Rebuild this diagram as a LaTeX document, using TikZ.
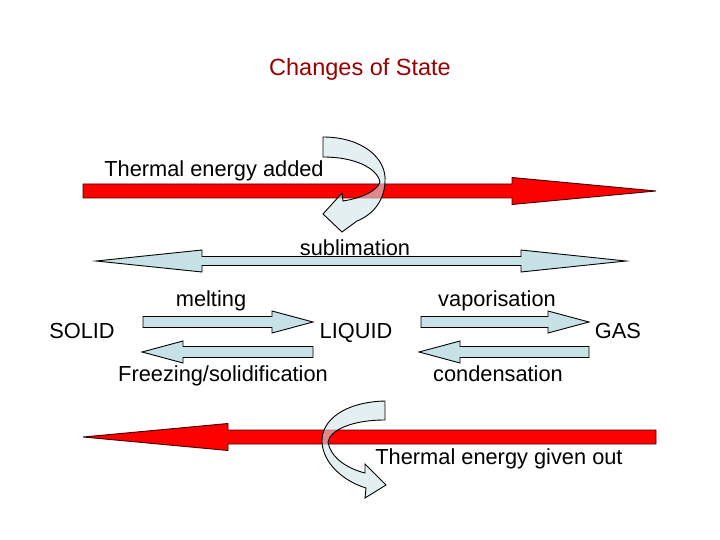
\documentclass[tikz,border=0pt]{standalone}
\usepackage{fontspec}
\setmainfont{Liberation Sans}
\usetikzlibrary{calc}
\definecolor{titlered}{RGB}{153,0,0}
\definecolor{heatred}{RGB}{255,0,0}
\definecolor{statefill}{RGB}{198,226,230}
\definecolor{curlfill}{RGB}{208,228,232}

% block arrow between two named points (horizontal)
\newcommand{\blockarrow}[2]{%
  \path[blockarrow] let \p1=(#1), \p2=(#2), \n1={ifthenelse(\x2>\x1,41,-41)} in
    (\x1,{\y1+5.5pt}) -- ({\x2-\n1*1pt},{\y1+5.5pt}) -- ({\x2-\n1*1pt},{\y1+11pt}) -- (\x2,\y1)
    -- ({\x2-\n1*1pt},{\y1-11pt}) -- ({\x2-\n1*1pt},{\y1-5.5pt}) -- (\x1,{\y1-5.5pt}) -- cycle;}
% long red arrow: tail, head base, tip
\newcommand{\heatarrow}[3]{%
  \path[heatarrow] let \p1=(#1), \p2=(#2), \p3=(#3) in
    (\x1,{\y1+7pt}) -- (\x2,{\y1+7pt}) -- (\x2,{\y1+13.5pt}) -- (\x3,\y1)
    -- (\x2,{\y1-13.5pt}) -- (\x2,{\y1-7pt}) -- (\x1,{\y1-7pt}) -- cycle;}

\tikzset{
  statetext/.style={font=\fontsize{21.8}{24}\selectfont, inner sep=0pt, anchor=base},
  blockarrow/.style={draw=black, line width=0.9pt, fill=statefill},
  heatarrow/.style={draw=black!75!red, line width=0.9pt, fill=heatred},
  curlarrow/.style={draw=black, line width=0.9pt, fill=curlfill, fill opacity=0.6},
}

\begin{document}
\begin{tikzpicture}[x=1pt, y=-1pt]
  \useasboundingbox (0,0) rectangle (720,540);

  \node[statetext, font=\fontsize{23.5}{26}\selectfont, text=titlered] (title) at (360,76) {Changes of State};

  % heat in
  \coordinate (intail) at (83,191);
  \coordinate (inbase) at (512,191);
  \coordinate (intip) at (656,191);
  \heatarrow{intail}{inbase}{intip}
  \node[statetext] (addedlabel) at (214,177) {Thermal energy added};
  \path[curlarrow] (323,137) .. controls (362,137) and (387,158) .. (385,182)
    .. controls (384,202) and (372,215) .. (357,221) -- (342,232) -- (323,214)
    -- (342,193) -- (343,201) .. controls (362,198) and (377,191) .. (380,182)
    .. controls (377,168) and (355,157) .. (323,157) -- cycle;

  % sublimation
  \coordinate (sublefttip) at (96,261);
  \coordinate (subrighttip) at (626,261);
  \path[blockarrow] let \p1=(sublefttip), \p2=(subrighttip) in
    (\x1,\y1) -- ({\x1+106pt},{\y1+11pt}) -- ({\x1+106pt},{\y1+4.5pt}) -- ({\x2-105pt},{\y1+4.5pt})
    -- ({\x2-105pt},{\y1+11pt}) -- (\x2,\y2) -- ({\x2-105pt},{\y1-11pt}) -- ({\x2-105pt},{\y1-4.5pt})
    -- ({\x1+106pt},{\y1-4.5pt}) -- ({\x1+106pt},{\y1-11pt}) -- cycle;
  \node[statetext] (sublabel) at (355,255) {sublimation};

  % states
  \node[statetext] (solid) at (82,338) {SOLID};
  \node[statetext] (liquid) at (356,338) {LIQUID};
  \node[statetext] (gas) at (618,338) {GAS};

  \coordinate (meltstart) at (143,322);
  \coordinate (meltend) at (313,322);
  \coordinate (freezestart) at (313,352);
  \coordinate (freezeend) at (142,352);
  \coordinate (vapstart) at (421,322);
  \coordinate (vapend) at (589,322);
  \coordinate (condstart) at (589,352);
  \coordinate (condend) at (419,352);
  \blockarrow{meltstart}{meltend}
  \blockarrow{freezestart}{freezeend}
  \blockarrow{vapstart}{vapend}
  \blockarrow{condstart}{condend}
  \node[statetext] (meltlabel) at (211,306) {melting};
  \node[statetext] (vaplabel) at (497,306) {vaporisation};
  \node[statetext] (freezelabel) at (223,381) {Freezing/solidification};
  \node[statetext] (condlabel) at (498,381) {condensation};

  % heat out
  \coordinate (outtail) at (656,437);
  \coordinate (outbase) at (228,437);
  \coordinate (outtip) at (83,437);
  \heatarrow{outtail}{outbase}{outtip}
  \path[curlarrow] (385,401) .. controls (345,402) and (321,420) .. (322,442)
    .. controls (323,463) and (343,481) .. (366,488) -- (365,498) -- (386,485)
    -- (365,464) -- (365,473) .. controls (345,468) and (330,456) .. (328,442)
    .. controls (330,430) and (352,420) .. (385,420) -- cycle;
  \node[statetext] (outlabel) at (499,464) {Thermal energy given out};
\end{tikzpicture}
\end{document}
